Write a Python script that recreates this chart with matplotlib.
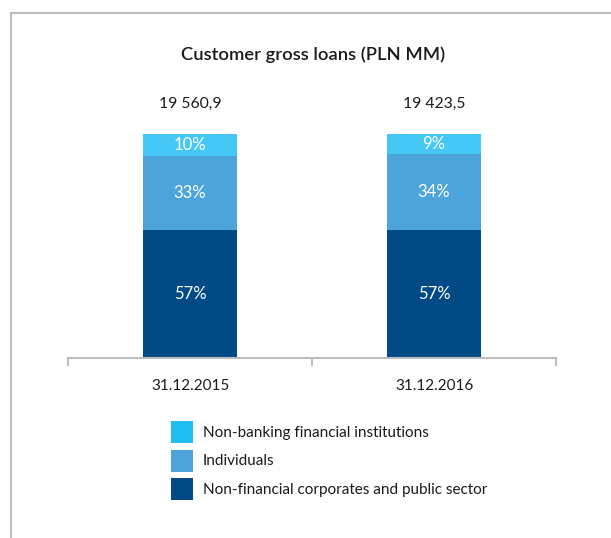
import matplotlib
matplotlib.use("Agg")
import matplotlib.pyplot as plt
from matplotlib.lines import Line2D
from matplotlib.patches import Patch

plt.rcParams['font.family'] = ['Lato', 'DejaVu Sans']

# Data
dates = ["31.12.2015", "31.12.2016"]
totals = ["19 560,9", "19 423,5"]
segments = ["Non-financial corporates and public sector",
            "Individuals",
            "Non-banking financial institutions"]
corporates = [57, 57]
individuals = [33, 34]
non_banking = [10, 9]

bar_colors = ["#024A86", "#4DA4DB", "#45C8F5"]
legend_colors = ["#024A86", "#4DA4DB", "#20BEEE"]
text_color = "#1A1A1A"
grey = "#BDBDBD"

W, H = 611, 538
fig = plt.figure(figsize=(W / 100, H / 100), dpi=100)

def fx(px):
    return px / W

def fy(py):
    return 1 - py / H

ax = fig.add_axes([fx(68), fy(358), fx(556) - fx(68), fy(134) - fy(358)])

x = list(range(len(dates)))
width = 0.385
series = [corporates, individuals, non_banking]
bottom = [0] * len(dates)
for vals, col in zip(series, bar_colors):
    ax.bar(x, vals, width, bottom=bottom, color=col, linewidth=0)
    for xi, v, b in zip(x, vals, bottom):
        ax.text(xi, b + v / 2, f"{v}%", ha="center", va="center",
                color="white", fontsize=12)
    bottom = [b + v for b, v in zip(bottom, vals)]

for xi, t, top in zip(x, totals, bottom):
    ax.annotate(t, xy=(xi, top), xytext=(0, 22), textcoords="offset points",
                ha="center", va="center", fontsize=11.3, color=text_color)

ax.set_xlim(-0.5, len(dates) - 0.5)
ax.set_ylim(0, 100)
for s in ["top", "left", "right"]:
    ax.spines[s].set_visible(False)
ax.spines["bottom"].set_color(grey)
ax.spines["bottom"].set_linewidth(1.5)
ax.set_yticks([])
ax.set_xticks(x)
ax.set_xticklabels(dates, fontsize=11, color=text_color)
ax.tick_params(axis="x", which="major", length=0, pad=15)
ax.set_xticks([-0.5, 0.5, 1.5], minor=True)
ax.tick_params(axis="x", which="minor", length=6, width=1.5, color=grey)

fig.text(fx(313), fy(55), "Customer gross loans (PLN MM)", ha="center",
         va="center", fontsize=13.2, fontweight="semibold", color=text_color)

# Legend: 22 px swatches on a 28.5 px row pitch
fs = 11
px = fs * 100 / 72
box = 22 / px
handles = [Patch(facecolor=c, edgecolor="none") for c in legend_colors[::-1]]
fig.legend(handles, segments[::-1], loc="upper left",
           bbox_to_anchor=(fx(171), fy(421)), frameon=False, fontsize=fs,
           handlelength=box, handleheight=(box - 0.245) / 0.65,
           handletextpad=10 / px, labelspacing=6.5 / px,
           borderpad=0, borderaxespad=0, labelcolor=text_color)

# Frame lines along the top and left edges
fig.add_artist(Line2D([fx(11), 1], [fy(13), fy(13)], color=grey, linewidth=1.5))
fig.add_artist(Line2D([fx(11), fx(11)], [fy(13), 0], color=grey, linewidth=1.5))

fig.savefig("out.png", dpi=100)
